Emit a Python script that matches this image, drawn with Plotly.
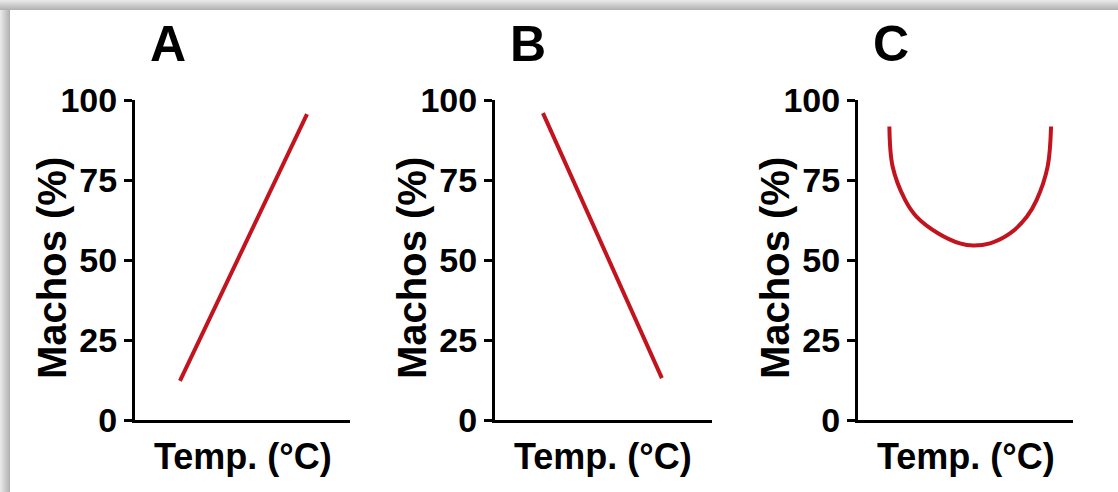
import plotly.graph_objects as go

# ---- data ----
panel_titles = ["A", "B", "C"]
y_ticks = [0, 25, 50, 75, 100]
x_title = "Temp. (°C)"
y_title = "Machos (%)"

temp_a = [20.9, 80.0]
males_a = [12.2, 95.6]

temp_b = [22.1, 76.9]
males_b = [95.9, 13.1]

temp_c = [14.6, 16.1, 21.9, 27.3, 37.4, 47.4, 53.6, 61.4, 70.7, 78.5, 83.1, 88.2, 89.8]
males_c = [91.7, 79.2, 68.8, 63.5, 58.3, 55.2, 54.5, 55.2, 58.3, 63.5, 68.8, 79.2, 91.7]

W, H = 1118, 492
LINE_COLOR = "#c2141e"
FONT = "Liberation Sans, Arial, sans-serif"

fig = go.Figure()
series = [(temp_a, males_a, "linear"), (temp_b, males_b, "linear"), (temp_c, males_c, "spline")]
for i, (xs, ys, shape) in enumerate(series):
    fig.add_trace(go.Scatter(
        x=xs, y=ys, mode="lines",
        line=dict(color=LINE_COLOR, width=4, shape=shape, smoothing=1.0),
        xaxis="x" if i == 0 else f"x{i+1}",
        yaxis="y" if i == 0 else f"y{i+1}",
        showlegend=False, hoverinfo="skip",
    ))

x_px = [(135, 350), (495, 712), (858, 1073)]
y_dom = [(H - 420) / H, (H - 100) / H]

layout = dict(
    width=W, height=H, autosize=False,
    margin=dict(l=0, r=0, t=0, b=0, pad=0, autoexpand=False),
    paper_bgcolor="white", plot_bgcolor="white",
    font=dict(family=FONT, color="black"),
    showlegend=False,
)
annotations = []
for i, (x0, x1) in enumerate(x_px):
    sfx = "" if i == 0 else str(i + 1)
    layout[f"xaxis{sfx}"] = dict(
        domain=[x0 / W, x1 / W], range=[0, 100], automargin=False,
        showline=True, linecolor="black", linewidth=3,
        showticklabels=False, ticks="", showgrid=False, zeroline=False,
        anchor=f"y{sfx}", fixedrange=True,
    )
    layout[f"yaxis{sfx}"] = dict(
        domain=list(y_dom), range=[0, 100], automargin=False,
        showline=True, linecolor="black", linewidth=3,
        tickmode="array", tickvals=y_ticks, ticktext=[str(v) for v in y_ticks],
        ticks="outside", ticklen=8, tickwidth=3, tickcolor="black",
        tickfont=dict(family=FONT, size=34, color="black", weight="bold"),
        showgrid=False, zeroline=False, anchor=f"x{sfx}", fixedrange=True,
    )
    annotations.append(dict(
        text=f"<b>{panel_titles[i]}</b>", xref="paper", yref="paper",
        x=(x0 + 33) / W, y=(H - 44) / H, showarrow=False,
        xanchor="center", yanchor="middle",
        font=dict(family=FONT, size=50, color="black"),
    ))
    annotations.append(dict(
        text=f"<b>{x_title}</b>", xref="paper", yref="paper",
        x=(x0 + 108) / W, y=(H - 456) / H, showarrow=False,
        xanchor="center", yanchor="middle",
        font=dict(family=FONT, size=36, color="black"),
    ))
    annotations.append(dict(
        text=f"<b>{y_title}</b>", xref="paper", yref="paper",
        x=(x0 - 83) / W, y=(H - 268) / H, showarrow=False, textangle=-90,
        xanchor="center", yanchor="middle",
        font=dict(family=FONT, size=40, color="black"),
    ))
layout["annotations"] = annotations

# frame shadow on the top and left edges
shapes = []
band = 10
for k in range(band):
    g = int(232 - 6 * k)
    col = f"rgb({g},{g},{g})"
    shapes.append(dict(type="rect", xref="paper", yref="paper",
                       x0=0, x1=1, y0=(H - k - 1) / H, y1=(H - k) / H,
                       line=dict(width=0), fillcolor=col, layer="below"))
    shapes.append(dict(type="rect", xref="paper", yref="paper",
                       x0=k / W, x1=(k + 1) / W, y0=0, y1=(H - k - 1) / H,
                       line=dict(width=0), fillcolor=col, layer="below"))
layout["shapes"] = shapes

fig.update_layout(**layout)
fig.write_html("out.html")
